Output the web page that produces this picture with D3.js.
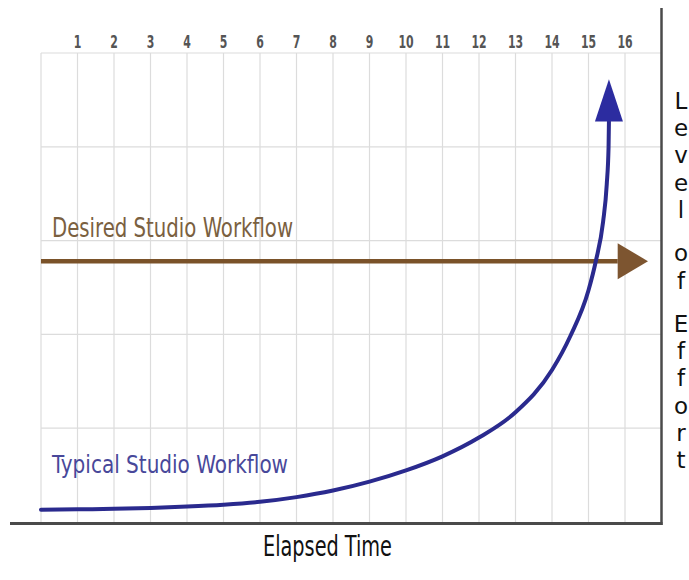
<!DOCTYPE html>
<html>
<head>
<meta charset="utf-8">
<script src="https://cdn.jsdelivr.net/npm/d3@7"></script>
<style>
  html, body { margin: 0; padding: 0; background: #fff; }
  svg { display: block; }
</style>
</head>
<body>
<svg id="chart" width="689" height="580"></svg>
<script>
(function() {

  // columns along the top, rows are just levels of effort (no labels)
  const tickLabels = ['1', '2', '3', '4', '5', '6', '7', '8', '9', '10', '11', '12', '13', '14', '15', '16']
  const rowLevels = [1, 2, 3, 4, 5]

  // typical workflow (x = elapsed columns, y = effort rows)
  const typicalX = [0, 1, 2, 3, 4, 5, 6, 7, 8, 9, 10, 11, 12, 13, 14, 14.5, 15, 15.2, 15.4, 15.5, 15.55, 15.56]
  const typicalY = [0.13, 0.135, 0.14, 0.15, 0.165, 0.185, 0.215, 0.265, 0.335, 0.43, 0.55, 0.7, 0.9, 1.17, 1.62, 1.98, 2.47, 2.78, 3.2, 3.6, 4.0, 4.27]
  const typicalTip = [15.56, 4.72]

  // desired workflow: flat
  const desiredX = [0, 15.8]
  const desiredY = [2.78, 2.78]
  const desiredTip = [16.63, 2.78]

  const seriesNames = ['Desired Studio Workflow', 'Typical Studio Workflow']
  const axisTitles = ['Elapsed Time', 'Level of Effort']

  const
    blue = '#2a2a8e',
    brown = '#7a5229',
    gridColor = '#dcdcdc',
    axisColor = '#4a4a4a'

  const svg = d3.select('#chart')

  const x = d3.scaleLinear().domain([0, 17]).range([41, 661.5])
  const y = d3.scaleLinear().domain([0, 5]).range([522, 53])

  // grid
  const grid = svg.append('g').attr('stroke', gridColor).attr('stroke-width', 1.2)

  grid.selectAll('line.v')
    .data(d3.range(0, 17))
    .enter()
    .append('line')
    .attr('class', 'v')
    .attr('x1', d => x(d)).attr('x2', d => x(d))
    .attr('y1', y(5)).attr('y2', y(0))

  grid.selectAll('line.h')
    .data(rowLevels)
    .enter()
    .append('line')
    .attr('class', 'h')
    .attr('x1', x(0)).attr('x2', x(17))
    .attr('y1', d => y(d)).attr('y2', d => y(d))

  // column numbers
  svg.append('g')
    .selectAll('text')
    .data(tickLabels)
    .enter()
    .append('text')
    .attr('x', (d, i) => x(i + 1))
    .attr('y', 48)
    .attr('text-anchor', 'middle')
    .attr('font-family', '"DejaVu Sans Condensed", "DejaVu Sans", sans-serif')
    .attr('font-weight', 'bold')
    .attr('font-size', 18)
    .attr('fill', '#555')
    .attr('textLength', d => d.length * 7.6)
    .attr('lengthAdjust', 'spacingAndGlyphs')
    .text(d => d)

  // axes
  svg.append('line')
    .attr('x1', 10).attr('x2', x(17) + 1)
    .attr('y1', y(0) + 1.5).attr('y2', y(0) + 1.5)
    .attr('stroke', axisColor).attr('stroke-width', 3)

  svg.append('line')
    .attr('x1', x(17)).attr('x2', x(17))
    .attr('y1', 8).attr('y2', y(0) + 3)
    .attr('stroke', axisColor).attr('stroke-width', 2.5)

  function arrowHead(base, tip, halfWidth) {
    const dx = tip[0] - base[0], dy = tip[1] - base[1]
    const len = Math.sqrt(dx * dx + dy * dy)
    const nx = -dy / len * halfWidth, ny = dx / len * halfWidth
    return 'M' + tip + 'L' + [base[0] + nx, base[1] + ny] + 'L' + [base[0] - nx, base[1] - ny] + 'Z'
  }

  const line = d3.line()
    .x(d => x(d[0]))
    .y(d => y(d[1]))
    .curve(d3.curveMonotoneX)

  // desired arrow
  const desired = desiredX.map((d, i) => [d, desiredY[i]])
  svg.append('path')
    .attr('d', line(desired))
    .attr('fill', 'none')
    .attr('stroke', brown)
    .attr('stroke-width', 4.5)

  const dBase = desired[desired.length - 1]
  svg.append('path')
    .attr('d', arrowHead([x(dBase[0]), y(dBase[1])], [x(desiredTip[0]), y(desiredTip[1])], 18))
    .attr('fill', '#7d5530')

  // typical curve
  const typical = typicalX.map((d, i) => [d, typicalY[i]])
  svg.append('path')
    .attr('d', line(typical))
    .attr('fill', 'none')
    .attr('stroke', blue)
    .attr('stroke-width', 4)
    .attr('stroke-linecap', 'round')

  const tBase = typical[typical.length - 1]
  svg.append('path')
    .attr('d', arrowHead([x(tBase[0]), y(tBase[1])], [x(typicalTip[0]), y(typicalTip[1])], 14))
    .attr('fill', '#2c2ca0')

  // series labels
  const labelFont = '"DejaVu Sans Condensed", "DejaVu Sans", sans-serif'

  svg.append('text')
    .attr('x', 52).attr('y', 237)
    .attr('font-family', labelFont)
    .attr('font-size', 26)
    .attr('fill', '#7a6040')
    .attr('textLength', 241)
    .attr('lengthAdjust', 'spacingAndGlyphs')
    .text(seriesNames[0])

  svg.append('text')
    .attr('x', 52).attr('y', 473)
    .attr('font-family', labelFont)
    .attr('font-size', 25)
    .attr('fill', '#48489a')
    .attr('textLength', 236)
    .attr('lengthAdjust', 'spacingAndGlyphs')
    .text(seriesNames[1])

  // axis titles
  svg.append('text')
    .attr('x', 263).attr('y', 556)
    .attr('font-family', labelFont)
    .attr('font-size', 28)
    .attr('fill', '#111')
    .attr('textLength', 129)
    .attr('lengthAdjust', 'spacingAndGlyphs')
    .text(axisTitles[0])

  // stacked letters on the right, gaps between words
  const letters = []
  let pos = 0
  axisTitles[1].split('').forEach(ch => {
    if (ch === ' ') { pos += 0.6; return }
    letters.push({ ch: ch, pos: pos })
    pos += 1
  })

  svg.append('g')
    .selectAll('text')
    .data(letters)
    .enter()
    .append('text')
    .attr('x', 681)
    .attr('y', d => 109 + d.pos * 27.2)
    .attr('text-anchor', 'middle')
    .attr('font-family', '"DejaVu Sans", sans-serif')
    .attr('font-size', 23)
    .attr('fill', '#111')
    .text(d => d.ch)

})();
</script>
</body>
</html>
